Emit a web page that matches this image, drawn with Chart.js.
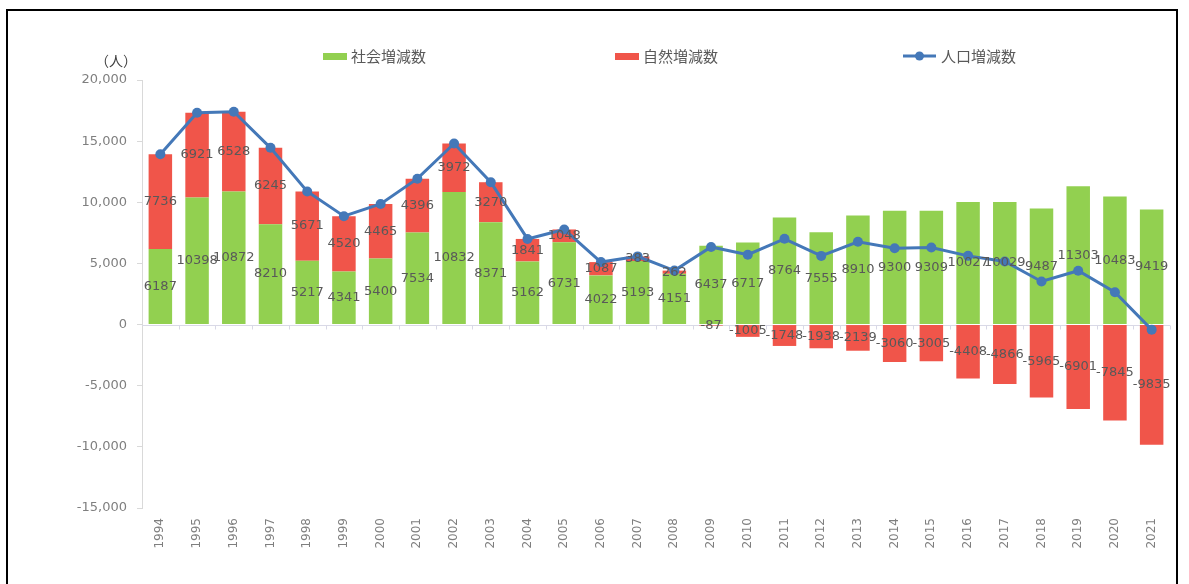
<!DOCTYPE html>
<html lang="ja">
<head>
<meta charset="utf-8">
<title>人口増減数の推移</title>
<script src="https://cdn.jsdelivr.net/npm/chart.js@4.4.1/dist/chart.umd.min.js"></script>
<style>
  html, body { margin: 0; padding: 0; background: #ffffff; }
  #wrap { position: relative; width: 1189px; height: 584px; overflow: hidden; }
  #frame { position: absolute; left: 6px; top: 9px; width: 1172px; height: 600px; border: 2px solid #000000; box-sizing: border-box; pointer-events: none; }
  #chart { position: absolute; left: 0; top: 0; }
</style>
</head>
<body>
<div id="wrap">
  <canvas id="chart" width="1189" height="584"></canvas>
  <div id="frame"></div>
</div>
<script>
// 年次
const years = ['1994','1995','1996','1997','1998','1999','2000','2001','2002','2003','2004','2005','2006','2007',
               '2008','2009','2010','2011','2012','2013','2014','2015','2016','2017','2018','2019','2020','2021'];

// 社会増減数（転入－転出）
const socialChange = [6187, 10398, 10872, 8210, 5217, 4341, 5400, 7534, 10832, 8371, 5162, 6731, 4022, 5193,
                      4151, 6437, 6717, 8764, 7555, 8910, 9300, 9309, 10027, 10029, 9487, 11303, 10483, 9419];

// 自然増減数（出生－死亡）
const naturalChange = [7736, 6921, 6528, 6245, 5671, 4520, 4465, 4396, 3972, 3270, 1841, 1048, 1087, 383,
                       262, -87, -1005, -1748, -1938, -2139, -3060, -3005, -4408, -4866, -5965, -6901, -7845, -9835];

// 人口増減数
const populationChange = [13923, 17319, 17400, 14455, 10888, 8861, 9865, 11930, 14804, 11641, 7003, 7779, 5109, 5576,
                          4413, 6350, 5712, 7016, 5617, 6771, 6240, 6304, 5619, 5163, 3522, 4402, 2638, -416];

// 縦軸の目盛
const yTicks = [-15000, -10000, -5000, 0, 5000, 10000, 15000, 20000];

const GREEN = '#92D050';
const RED = '#F0554A';
const BLUE = '#4478B8';
const TEXT_GRAY = '#595959';
const AXIS_GRAY = '#7F7F7F';

// 棒グラフ各区間の中央に数値を描く
const segmentLabels = {
  id: 'segmentLabels',
  afterDatasetsDraw(chart) {
    const ctx = chart.ctx;
    ctx.save();
    ctx.font = '13px "DejaVu Sans", sans-serif';
    ctx.fillStyle = TEXT_GRAY;
    ctx.textAlign = 'center';
    ctx.textBaseline = 'middle';
    chart.data.datasets.forEach((ds, di) => {
      if (ds.type !== 'bar') return;
      const meta = chart.getDatasetMeta(di);
      meta.data.forEach((el, i) => {
        const v = ds.data[i];
        if (v === null || v === undefined) return;
        ctx.fillText(String(v), el.x, (el.y + el.base) / 2);
      });
    });
    ctx.restore();
  }
};

// 0 の位置の横軸線と目盛
const zeroAxis = {
  id: 'zeroAxis',
  beforeDatasetsDraw(chart) {
    const { ctx, chartArea, scales } = chart;
    const y0 = Math.round(scales.y.getPixelForValue(0)) + 0.5;
    ctx.save();
    ctx.strokeStyle = '#D9D9E6';
    ctx.lineWidth = 1;
    ctx.beginPath();
    ctx.moveTo(chartArea.left, y0);
    ctx.lineTo(chartArea.right, y0);
    const n = chart.data.labels.length;
    const step = (chartArea.right - chartArea.left) / n;
    for (let i = 1; i <= n; i++) {
      const x = Math.round(chartArea.left + step * i) + 0.5;
      ctx.moveTo(x, y0);
      ctx.lineTo(x, y0 + 4);
    }
    ctx.stroke();
    ctx.restore();
  }
};

// 凡例と単位表記
const legendAndUnit = {
  id: 'legendAndUnit',
  afterDraw(chart) {
    const ctx = chart.ctx;
    const ds = chart.data.datasets;
    ctx.save();
    ctx.textBaseline = 'middle';
    ctx.textAlign = 'left';
    ctx.font = '15px "Noto Sans CJK JP", sans-serif';
    const yc = 56;
    // 社会増減数
    ctx.fillStyle = ds[0].backgroundColor;
    ctx.fillRect(323, yc - 3, 24, 7);
    ctx.fillStyle = TEXT_GRAY;
    ctx.fillText(ds[0].label, 351, yc);
    // 自然増減数
    ctx.fillStyle = ds[1].backgroundColor;
    ctx.fillRect(615, yc - 3, 24, 7);
    ctx.fillStyle = TEXT_GRAY;
    ctx.fillText(ds[1].label, 643, yc);
    // 人口増減数
    ctx.strokeStyle = ds[2].borderColor;
    ctx.lineWidth = 3;
    ctx.beginPath();
    ctx.moveTo(903, yc);
    ctx.lineTo(936, yc);
    ctx.stroke();
    ctx.fillStyle = ds[2].pointBackgroundColor;
    ctx.beginPath();
    ctx.arc(919.5, yc, 4.5, 0, Math.PI * 2);
    ctx.fill();
    ctx.fillStyle = TEXT_GRAY;
    ctx.fillText(ds[2].label, 941, yc);
    // 単位
    ctx.textAlign = 'center';
    ctx.font = '14px "Noto Sans CJK JP", sans-serif';
    ctx.fillStyle = '#404040';
    ctx.fillText('（人）', 116, 61);
    ctx.restore();
  }
};

new Chart(document.getElementById('chart'), {
  data: {
    labels: years,
    datasets: [
      {
        type: 'bar',
        label: '社会増減数',
        data: socialChange,
        backgroundColor: GREEN,
        borderWidth: 0,
        stack: 'change',
        order: 2
      },
      {
        type: 'bar',
        label: '自然増減数',
        data: naturalChange,
        backgroundColor: RED,
        borderWidth: 0,
        stack: 'change',
        order: 2
      },
      {
        type: 'line',
        label: '人口増減数',
        data: populationChange,
        borderColor: BLUE,
        borderWidth: 3,
        pointRadius: 5,
        pointBackgroundColor: BLUE,
        pointBorderColor: BLUE,
        pointBorderWidth: 0,
        tension: 0,
        stack: 'total',
        order: 1
      }
    ]
  },
  options: {
    responsive: false,
    animation: false,
    devicePixelRatio: 1,
    layout: { padding: { left: 62, right: 19, top: 80, bottom: 10 } },
    datasets: {
      bar: { categoryPercentage: 1.0, barPercentage: 0.64 }
    },
    plugins: {
      legend: { display: false },
      tooltip: { enabled: false }
    },
    scales: {
      x: {
        stacked: true,
        grid: { display: false, drawTicks: false },
        border: { display: false },
        ticks: {
          minRotation: 90,
          maxRotation: 90,
          padding: 10,
          color: AXIS_GRAY,
          font: { family: '"DejaVu Sans", sans-serif', size: 12 }
        },
        afterFit(scale) { scale.height = 66; }
      },
      y: {
        stacked: true,
        min: yTicks[0],
        max: yTicks[yTicks.length - 1],
        afterBuildTicks(scale) { scale.ticks = yTicks.map(v => ({ value: v })); },
        grid: { drawOnChartArea: false, tickLength: 5, color: '#D9D9D9' },
        border: { display: true, color: '#D9D9D9' },
        ticks: {
          padding: 10,
          color: AXIS_GRAY,
          font: { family: '"DejaVu Sans", sans-serif', size: 13 },
          callback: (v) => Number(v).toLocaleString('en-US')
        },
        afterFit(scale) { scale.width = 80; }
      }
    }
  },
  plugins: [zeroAxis, segmentLabels, legendAndUnit]
});
</script>
</body>
</html>
